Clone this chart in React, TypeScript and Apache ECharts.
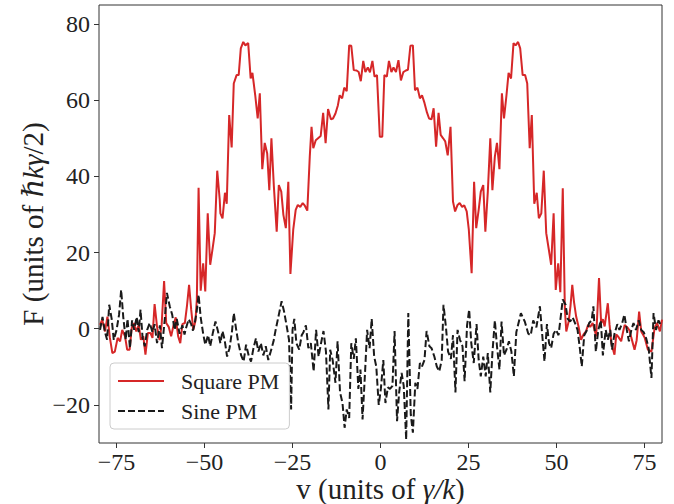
import React, { useEffect, useRef } from "react";
import * as echarts from "echarts";

// Square PM (red, solid): velocity and force values
const squareV = [
  -79.7, -79.1, -78.3, -77.6, -76.9, -76.2, -75.5, -74.7, -74.0, -73.4, -72.6, -72.0, -71.3, -70.7, -70.1,
  -69.4, -68.7, -68.1, -67.4, -66.8, -66.1, -65.4, -64.8, -64.2, -63.5, -62.8, -62.2, -61.5, -60.9, -60.2,
  -59.5, -58.8, -58.2, -57.5, -56.9, -56.3, -55.6, -55.0, -54.4, -53.8, -53.2, -52.6, -52.2, -51.7, -51.1,
  -50.4, -49.8, -49.1, -48.4, -47.8, -47.1, -46.4, -45.7, -45.5, -44.9, -44.2, -43.7, -43.0, -42.3, -41.7,
  -40.9, -40.3, -39.7, -39.0, -38.4, -37.6, -36.9, -36.4, -35.6, -34.9, -34.3, -33.6, -32.9, -32.2, -31.6,
  -31.0, -30.3, -29.5, -28.9, -28.2, -27.6, -26.9, -26.2, -25.6, -24.8, -24.1, -23.5, -22.8, -22.1, -21.5,
  -20.8, -20.1, -19.6, -19.1, -18.4, -17.0, -16.3, -15.6, -14.9, -14.1, -13.5, -12.8, -12.1, -11.6, -10.9,
  -10.3, -9.6, -8.9, -8.3, -7.6, -6.8, -6.2, -5.6, -4.9, -4.3, -3.6, -3.0, -2.3, -1.7, -1.0,
  -0.2, 0.5, 1.1, 1.8, 2.4, 3.1, 3.7, 4.4, 5.1, 5.8, 6.5, 7.2, 7.8, 8.5, 9.2,
  9.8, 10.5, 11.2, 11.8, 12.5, 13.2, 13.8, 14.5, 15.1, 15.8, 16.5, 17.1, 17.8, 18.4, 19.1,
  19.9, 20.6, 21.2, 21.9, 22.5, 23.2, 23.8, 24.5, 25.1, 25.9, 26.6, 27.2, 27.9, 28.5, 29.2,
  29.8, 30.5, 31.2, 31.8, 32.5, 33.1, 33.8, 34.5, 35.1, 35.8, 36.4, 37.1, 37.8, 38.4, 39.1,
  39.7, 40.4, 41.1, 41.7, 42.4, 43.0, 43.7, 44.4, 45.0, 45.7, 46.4, 47.1, 47.8, 48.5, 49.2,
  49.8, 50.5, 51.1, 51.8, 52.4, 52.8, 53.5, 54.0, 54.5, 55.0, 55.6, 56.3, 57.0, 57.7, 58.4,
  59.0, 59.6, 60.3, 60.9, 61.3, 62.1, 62.7, 63.2, 63.7, 64.6, 65.1, 65.6, 66.5, 67.0, 67.5,
  68.4, 68.9, 69.4, 70.3, 70.8, 71.3, 72.2, 72.8, 73.5, 74.1, 74.6, 75.1, 76.0, 77.0, 77.9,
  78.6, 79.4, 80.0,
];
const squareF = [
  1.0, 2.4, -0.7, 3.2, -2.4, -6.4, -6.0, -2.4, -3.3, -0.3, -2.0, -5.5, -5.5, 0.2, 1.5,
  -0.7, 1.0, -2.9, -2.0, -6.8, -1.1, -1.1, -2.4, 6.5, 0.5, -3.0, 1.0, 12.5, 1.5, 0.5,
  -2.0, 1.0, 3.0, -2.0, -3.8, 1.2, 1.5, 6.0, 11.5, 5.0, -0.3, 2.0, 7.6, 37.0, 10.0,
  17.2, 9.8, 30.3, 16.8, 20.5, 25.1, 41.5, 34.0, 30.3, 29.0, 35.7, 32.8, 56.1, 47.6, 64.4,
  66.6, 66.6, 73.6, 75.3, 74.4, 75.0, 65.7, 67.2, 61.3, 55.2, 61.8, 41.9, 48.8, 46.0, 36.4,
  50.0, 37.3, 25.5, 37.7, 36.0, 29.9, 26.4, 38.6, 14.4, 26.0, 31.2, 32.5, 32.0, 33.0, 32.3,
  31.0, 45.2, 53.0, 47.4, 49.5, 50.6, 56.7, 48.7, 57.7, 55.0, 55.2, 56.5, 58.7, 61.3, 60.5,
  63.3, 62.4, 74.4, 74.3, 67.9, 67.8, 67.4, 65.0, 70.3, 67.4, 68.6, 67.3, 70.3, 66.2, 66.6,
  50.4, 50.4, 66.6, 66.2, 70.3, 67.4, 68.6, 67.4, 70.5, 65.2, 67.4, 67.8, 68.0, 74.3, 74.4,
  62.6, 63.3, 60.5, 61.3, 59.3, 56.8, 55.2, 55.0, 57.9, 47.8, 56.7, 50.9, 50.0, 49.2, 45.5,
  53.0, 33.4, 30.8, 32.5, 33.0, 32.0, 32.4, 30.8, 26.0, 14.6, 38.6, 26.4, 31.2, 36.0, 37.7,
  25.5, 36.0, 50.0, 36.4, 45.2, 48.8, 41.9, 61.8, 55.2, 61.3, 67.2, 65.7, 75.0, 74.4, 75.3,
  73.6, 66.6, 66.6, 64.4, 47.4, 56.1, 32.8, 35.7, 29.0, 30.3, 41.5, 25.1, 21.0, 16.8, 30.3,
  10.2, 17.2, 9.6, 36.9, 5.0, -0.7, 2.0, 6.0, 11.5, 7.0, 3.2, 0.5, -2.9, -1.5, -0.7,
  1.0, 0.5, 1.5, -0.5, -2.0, 13.3, 1.5, 2.5, 0.6, 6.7, 1.0, -3.8, -6.8, -1.5, -2.0,
  -3.3, -1.0, 1.0, 0.2, -0.5, -2.4, -5.5, -3.0, 4.5, -0.7, -1.5, -2.4, -5.5, -6.0, 0.2,
  1.5, -0.7, 2.4,
];

// Sine PM (black, dashed)
const sineV = [
  -79.7, -79.0, -78.3, -77.7, -77.1, -76.4, -75.8, -75.0, -74.3, -73.7, -73.1, -72.4, -71.9, -71.2, -70.6,
  -70.0, -69.3, -68.7, -68.2, -67.6, -67.0, -66.3, -65.6, -64.8, -64.2, -63.5, -62.7, -62.1, -61.3, -60.7,
  -59.9, -59.2, -58.5, -57.9, -57.1, -56.3, -55.7, -55.2, -54.5, -53.8, -53.3, -52.8, -52.3, -51.7, -51.1,
  -50.4, -49.8, -49.0, -48.4, -47.6, -46.9, -46.2, -45.5, -44.9, -44.3, -43.6, -42.9, -42.2, -41.7, -41.0,
  -40.4, -39.6, -38.9, -38.2, -37.4, -36.8, -36.1, -35.4, -34.7, -34.0, -33.3, -32.6, -31.9, -31.2, -30.4,
  -29.8, -28.8, -28.1, -27.4, -26.7, -26.0, -25.4, -25.0, -24.5, -23.9, -23.1, -22.4, -21.9, -21.2, -20.5,
  -19.8, -19.0, -18.3, -17.6, -16.9, -16.2, -15.5, -14.8, -14.3, -13.6, -12.8, -12.2, -11.5, -10.8, -10.2,
  -9.6, -8.9, -8.3, -7.6, -7.0, -6.3, -5.7, -5.1, -4.4, -3.8, -3.1, -2.5, -1.8, -1.2, -0.5,
  0.1, 0.8, 1.4, 2.1, 2.7, 3.4, 4.0, 4.7, 5.3, 6.0, 6.6, 7.3, 7.9, 8.6, 9.2,
  9.9, 10.5, 11.2, 11.8, 12.5, 13.1, 13.9, 14.5, 15.3, 16.0, 16.7, 17.4, 17.9, 18.6, 19.2,
  20.0, 20.6, 21.3, 21.9, 22.6, 23.3, 23.9, 24.6, 25.2, 25.8, 26.5, 27.3, 27.9, 28.5, 29.2,
  29.9, 30.5, 31.2, 31.8, 32.5, 33.1, 33.8, 34.4, 35.1, 35.8, 36.5, 37.2, 37.9, 38.6, 39.9,
  41.0, 42.0, 42.7, 43.4, 44.3, 45.3, 45.9, 46.6, 47.3, 47.9, 48.5, 49.2, 49.9, 50.6, 51.2,
  51.8, 52.6, 53.2, 53.9, 54.6, 55.4, 56.0, 56.7, 57.2, 57.9, 58.7, 59.3, 60.0, 60.5, 61.2,
  61.9, 62.6, 63.2, 64.0, 64.6, 65.3, 65.8, 66.5, 67.3, 67.9, 68.7, 69.3, 70.0, 70.6, 71.3,
  71.9, 72.6, 73.4, 74.1, 74.8, 75.5, 76.2, 77.0, 77.6, 78.3, 79.0, 79.7,
];
const sineF = [
  -0.3, 3.1, -0.9, -2.9, 6.3, 2.6, -2.9, -0.3, 3.7, 10.2, 3.0, -2.9, 2.6, -5.1, 2.2,
  -0.3, 3.1, -0.9, 5.0, -2.5, -4.6, -0.3, 1.5, -0.9, 1.2, -3.8, 0.9, -5.1, 2.6, 9.4,
  5.9, 3.7, -0.3, 2.6, -1.3, 0.9, -1.5, 0.4, 2.5, 1.2, -0.5, 1.5, 4.1, 8.9, 3.0,
  -1.3, -4.2, -1.7, -4.6, -0.9, 1.9, -0.6, -3.8, -0.6, -2.9, -7.3, -5.1, -0.6, 4.1, -0.3,
  -3.8, -7.0, -8.6, -4.2, -7.3, -8.6, -5.1, -2.5, -6.0, -3.8, -7.0, -4.6, -8.2, -6.0, -3.3,
  -0.3, 4.1, 7.2, 4.5, 0.9, -2.9, -21.2, -0.3, 2.6, -3.8, -5.5, -1.7, -0.9, 0.9, -5.1,
  -3.8, -11.2, -0.3, -7.3, -3.8, -0.6, -6.0, -21.2, -5.5, -8.2, -14.2, -3.3, -16.7, -19.5, -26.0,
  -21.2, -23.4, -3.8, -7.9, -2.5, -15.8, -10.7, -23.8, -11.6, -0.3, -5.1, 2.6, -7.3, -9.9, -20.0,
  -15.8, -8.2, -19.5, -15.4, -15.8, -15.0, -0.6, -24.3, -16.7, -11.6, -15.0, -29.1, 4.1, -22.5, -27.3,
  -14.2, -15.8, -9.0, -9.9, -8.2, -0.6, -4.6, -5.1, -7.3, -9.9, -11.2, -8.2, 6.3, 0.4, -6.0,
  -7.9, -1.7, -16.7, -0.3, -2.9, -4.6, -13.8, 0.9, 5.0, -3.8, -9.0, 1.2, -8.2, -12.5, -7.3,
  -12.5, -6.4, -16.7, -6.4, 2.2, -4.6, -10.7, 1.9, -7.0, -5.5, -3.3, -6.0, -12.5, -0.9, 4.1,
  1.9, -1.3, -1.7, 2.2, 0.4, 5.9, -0.9, -8.6, 1.2, -3.8, -5.1, -1.3, -0.3, -1.7, 3.0,
  7.7, 6.3, 2.6, 1.9, 3.0, 1.2, -0.3, -5.5, -9.9, -1.7, -0.3, 1.5, 2.2, 5.9, -6.0,
  -0.3, 2.2, -7.0, -0.3, -2.9, -0.3, -5.5, -1.3, 1.2, -0.3, 1.5, 3.7, -0.3, -3.3, -0.3,
  1.5, -0.3, 2.2, -0.3, -0.9, -2.5, -5.1, -12.9, 4.1, -0.3, 2.2, 0.9,
];

const xTicks = [-75, -50, -25, 0, 25, 50, 75];
const yTicks = [-20, 0, 20, 40, 60, 80];
const seriesNames = ["Square PM", "Sine PM"];

const FONT = "'Liberation Serif', 'DejaVu Serif', serif";
const fmt = (v: number) => String(v).replace("-", "\u2212");

export default function App() {
  const ref = useRef<HTMLDivElement>(null);
  useEffect(() => {
    if (!ref.current) return;
    const chart = echarts.init(ref.current, undefined, { renderer: "svg" });
    const zip = (xs: number[], ys: number[]) => xs.map((x, i) => [x, ys[i]]);
    const nameRich = {
      a: { fontSize: 29, lineHeight: 29, fontFamily: FONT, color: "#222" },
      b: { fontSize: 29, lineHeight: 29, fontFamily: FONT, color: "#222", fontStyle: "italic" },
    };
    chart.setOption({
      animation: false,
      backgroundColor: "#ffffff",
      grid: {
        left: 99,
        right: 12,
        top: 5,
        bottom: 61,
        outerBoundsMode: "none",
        containLabel: false,
        show: true,
        borderColor: "#333",
        borderWidth: 1,
        backgroundColor: "transparent",
      },
      xAxis: {
        type: "value",
        min: -80,
        max: 80,
        axisLine: { show: false, onZero: false },
        splitLine: { show: false },
        axisTick: {
          show: true,
          customValues: xTicks,
          length: 5,
          lineStyle: { color: "#333", width: 1 },
        },
        axisLabel: {
          customValues: xTicks,
          formatter: fmt,
          fontSize: 24,
          lineHeight: 20,
          fontFamily: FONT,
          color: "#222",
          margin: 9,
        },
        name: "{a|v (units of }{b|\u03b3/k}{a|)}",
        nameLocation: "middle",
        nameGap: 31,
        nameMoveOverlap: false,
        nameTextStyle: { rich: nameRich, verticalAlign: "top", lineHeight: 29 },
      },
      yAxis: {
        type: "value",
        min: -30,
        max: 85,
        axisLine: { show: false, onZero: false },
        splitLine: { show: false },
        axisTick: {
          show: true,
          customValues: yTicks,
          length: 5,
          lineStyle: { color: "#333", width: 1 },
        },
        axisLabel: {
          customValues: yTicks,
          formatter: fmt,
          fontSize: 24,
          fontFamily: FONT,
          color: "#222",
          margin: 9,
        },
        name: "{a|F (units of }{b|\u210fk\u03b3}{a|/2)}",
        nameLocation: "middle",
        nameRotate: 90,
        nameGap: 52,
        nameMoveOverlap: false,
        nameTextStyle: { rich: nameRich, lineHeight: 29 },
      },
      legend: {
        data: seriesNames,
        orient: "vertical",
        left: 110,
        top: 363,
        itemWidth: 46,
        itemHeight: 14,
        itemGap: 6,
        padding: [6, 10, 6, 7],
        borderColor: "#cccccc",
        borderWidth: 1,
        borderRadius: 4,
        backgroundColor: "rgba(255,255,255,0.8)",
        itemStyle: { opacity: 0 },
        textStyle: {
          fontSize: 22,
          fontFamily: FONT,
          color: "#222",
          lineHeight: 24,
          padding: [0, 0, 0, 12],
        },
      },
      series: [
        {
          name: seriesNames[0],
          type: "line",
          data: zip(squareV, squareF),
          symbol: "none",
          showSymbol: false,
          lineStyle: { color: "#d62728", width: 2 },
          itemStyle: { color: "#d62728" },
        },
        {
          name: seriesNames[1],
          type: "line",
          data: zip(sineV, sineF),
          symbol: "none",
          showSymbol: false,
          lineStyle: { color: "#1a1a1a", width: 2, type: [7, 3] },
          itemStyle: { color: "#1a1a1a" },
        },
      ],
    });
    return () => chart.dispose();
  }, []);
  return (
    <div
      ref={ref}
      style={{ position: "fixed", left: 0, top: 0, width: 674, height: 504, background: "#fff" }}
    />
  );
}
